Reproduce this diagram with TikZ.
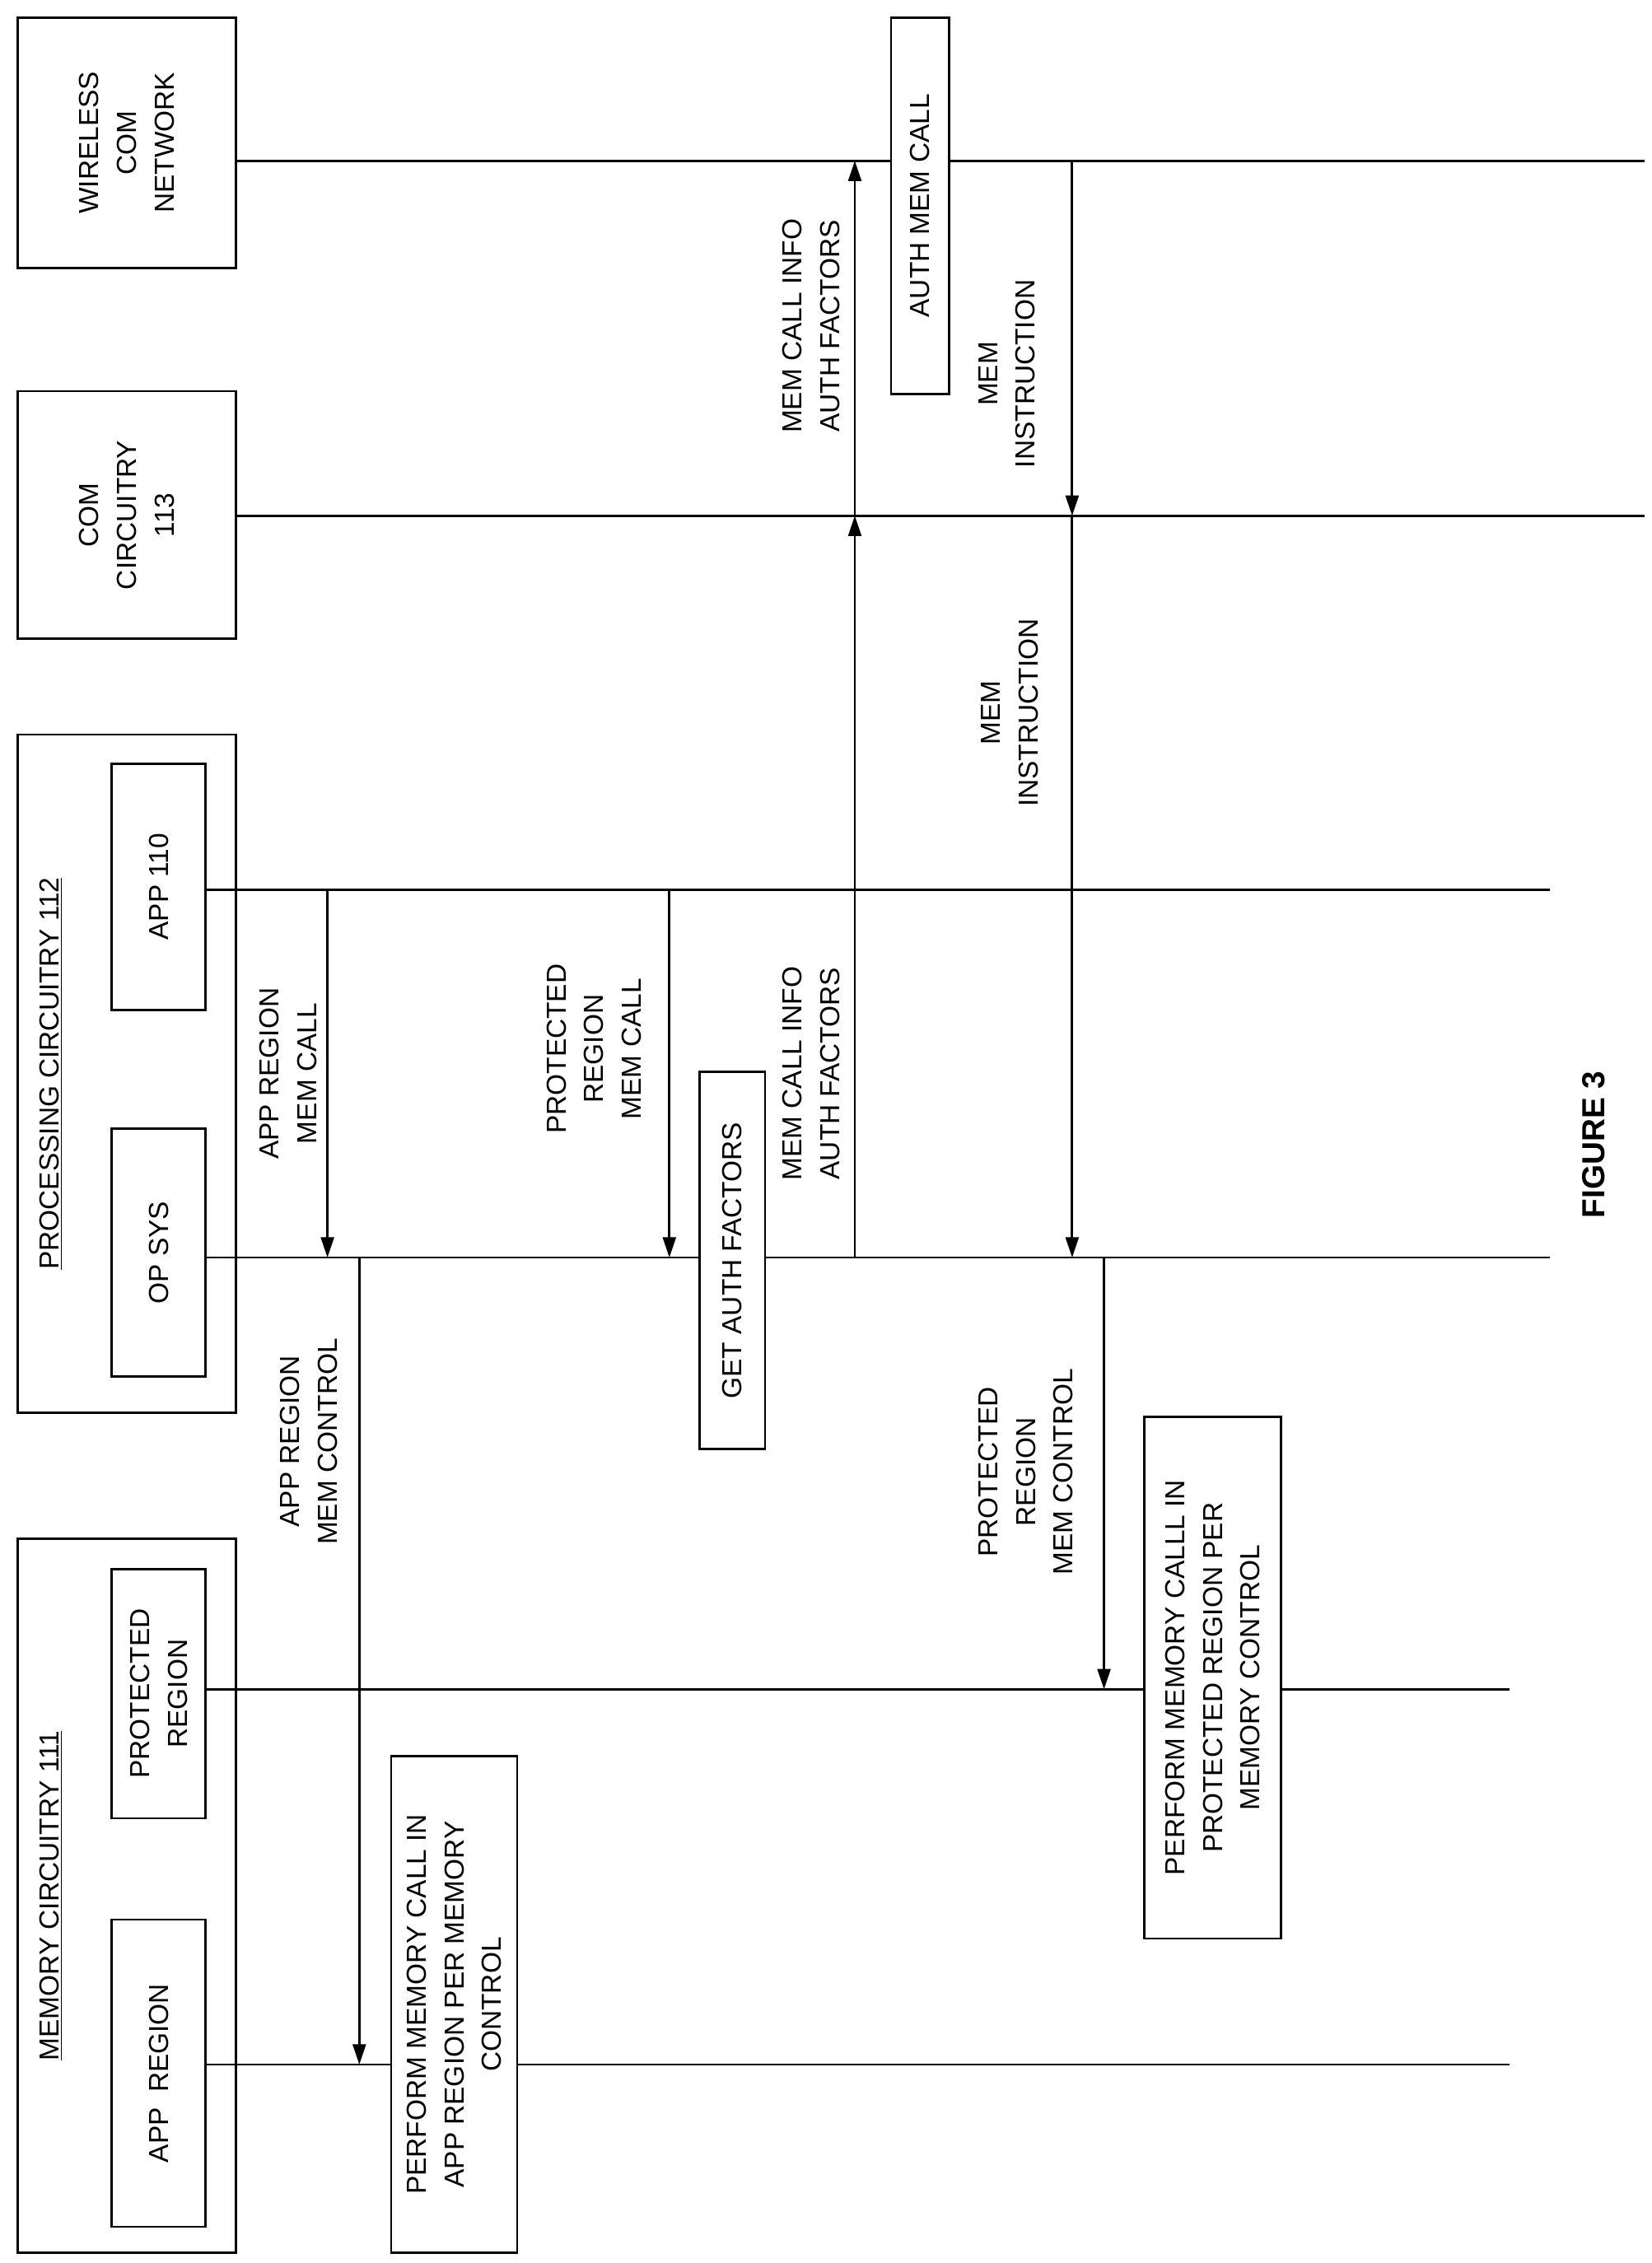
\documentclass[tikz,border=0pt]{standalone}
\usepackage{fontspec}
\setmainfont{Liberation Sans}
\usetikzlibrary{arrows.meta}
\begin{document}
\begin{tikzpicture}[x=1pt,y=-1pt,line width=1.6pt,
  txt/.style={rotate=90,align=center,font=\fontsize{19}{26}\selectfont,inner sep=0pt},
  bx/.style={txt,draw,line width=1.6pt},
  arr/.style={-{Triangle[length=14pt,width=9pt]}}]
\useasboundingbox (0,0) rectangle (1140,1562);
% boxes: minimum width = y-extent, minimum height = x-extent
\node[bx,minimum width=173,minimum height=151] (wn) at (87.5,98.5) {WIRELESS\\COM\\NETWORK};
\node[bx,minimum width=171,minimum height=151] (cc) at (87.5,355.5) {COM\\CIRCUITRY\\113};
\node[draw,minimum width=151,minimum height=468,inner sep=0pt] (pc) at (87.5,741) {};
\node[txt] (pcl) at (35,741) {\underline{PROCESSING CIRCUITRY 112}};
\node[bx,minimum width=170,minimum height=65] (app) at (109.5,612) {APP 110};
\node[bx,minimum width=171,minimum height=65] (os) at (109.5,864.5) {OP SYS};
\node[draw,minimum width=151,minimum height=493,inner sep=0pt] (mc) at (87.5,1308.5) {};
\node[txt] (mcl) at (35,1308.5) {\underline{MEMORY CIRCUITRY 111}};
\node[bx,minimum width=172,minimum height=65] (pr) at (109.5,1169) {PROTECTED\\REGION};
\node[bx,minimum width=212,minimum height=65] (ar) at (109.5,1431) {APP\ \ REGION};
% lifelines
\coordinate (wnE) at (1135,111); \coordinate (ccE) at (1135,356);
\coordinate (appE) at (1070,614); \coordinate (osE) at (1070,868);
\coordinate (prE) at (1042,1166); \coordinate (arE) at (1042,1425);
\draw (163,111) -- (wnE); \draw (163,356) -- (ccE);
\draw (142,614) -- (appE); \draw (142,868) -- (osE);
\draw (142,1166) -- (prE); \draw (142,1425) -- (arE);
% process boxes
\node[bx,fill=white,minimum width=343,minimum height=87,inner sep=3pt] (p1) at (313.5,1383.5) {PERFORM MEMORY CALL IN\\APP REGION PER MEMORY\\CONTROL};
\node[bx,fill=white,minimum width=260,minimum height=45] (ga) at (505.5,870) {GET AUTH FACTORS};
\node[bx,fill=white,minimum width=260,minimum height=40] (am) at (635,142) {AUTH MEM CALL};
\node[bx,fill=white,minimum width=360,minimum height=94,inner sep=3pt] (p2) at (837,1158) {PERFORM MEMORY CALLL IN\\PROTECTED REGION PER\\MEMORY CONTROL};
% arrows
\coordinate (a1s) at (226,614); \coordinate (a1e) at (226,868);
\draw[arr] (a1s) -- (a1e);
\node[txt] (l1) at (199,741) {APP REGION\\MEM CALL};
\coordinate (a2s) at (248,868); \coordinate (a2e) at (248,1425);
\draw[arr] (a2s) -- (a2e);
\node[txt] (l2) at (213,995) {APP REGION\\MEM CONTROL};
\coordinate (a3s) at (462,614); \coordinate (a3e) at (462,868);
\draw[arr] (a3s) -- (a3e);
\node[txt] (l3) at (410,724) {PROTECTED\\REGION\\MEM CALL};
\coordinate (a4s) at (590,868); \coordinate (a4e) at (590,356);
\draw[arr] (a4s) -- (a4e);
\node[txt] (l4) at (560,741) {MEM CALL INFO\\AUTH FACTORS};
\coordinate (a5s) at (590,356); \coordinate (a5e) at (590,111);
\draw[arr] (a5s) -- (a5e);
\node[txt] (l5) at (560,225) {MEM CALL INFO\\AUTH FACTORS};
\coordinate (a6s) at (740,111); \coordinate (a6e) at (740,356);
\draw[arr] (a6s) -- (a6e);
\node[txt] (l6) at (695,258) {MEM\\INSTRUCTION};
\coordinate (a7s) at (740,356); \coordinate (a7e) at (740,868);
\draw[arr] (a7s) -- (a7e);
\node[txt] (l7) at (697,492) {MEM\\INSTRUCTION};
\coordinate (a8s) at (762,868); \coordinate (a8e) at (762,1166);
\draw[arr] (a8s) -- (a8e);
\node[txt] (l8) at (708,1016) {PROTECTED\\REGION\\MEM CONTROL};
\node[txt,font=\bfseries\fontsize{22}{26}\selectfont] (fig) at (1100,790) {FIGURE 3};
\end{tikzpicture}
\end{document}
